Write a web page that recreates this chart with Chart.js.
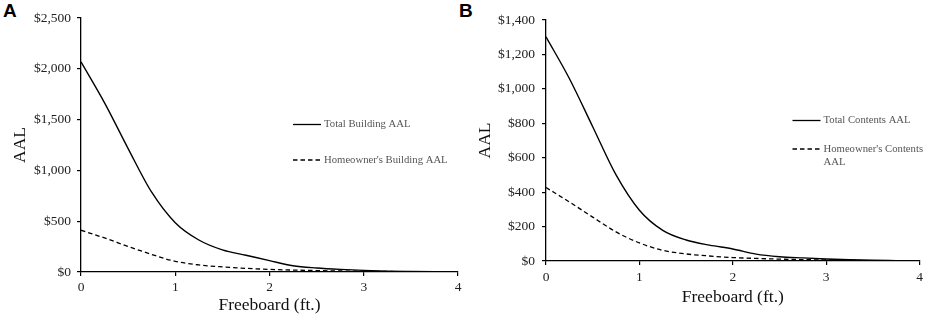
<!DOCTYPE html>
<html>
<head>
<meta charset="utf-8">
<script src="https://cdn.jsdelivr.net/npm/chart.js@4/dist/chart.umd.min.js"></script>
<style>
  html, body { margin: 0; padding: 0; background: #fff; }
  body { width: 927px; height: 317px; position: relative; overflow: hidden; }
  canvas { position: absolute; top: 0; }
  .lbl { position: absolute; font: bold 19px "Liberation Sans", Arial, sans-serif; line-height: 19px; color: #000; }
</style>
</head>
<body>
<div class="lbl" style="left:3px; top:1px;">A</div>
<div class="lbl" style="left:459px; top:1px;">B</div>
<canvas id="chartA" width="470" height="317" style="left:0px;"></canvas>
<canvas id="chartB" width="457" height="317" style="left:470px;"></canvas>
<script>
// ---- Data ----
const freeboard = [0, 0.25, 0.5, 0.75, 1, 1.25, 1.5, 1.75, 2, 2.25, 2.5, 2.75, 3, 3.25, 3.5, 3.75, 4];

// Panel A: Building AAL
const totalBuildingAAL      = [2068, 1665, 1215, 785, 485, 315, 218, 165, 112, 62, 40, 26, 16, 9, 5, 2, 0];
const homeownerBuildingAAL  = [411, 335, 252, 173, 105, 70, 50, 36, 26, 19, 14, 10, 7, 5, 3, 1, 0];

// Panel B: Contents AAL
const totalContentsAAL      = [1302, 1060, 780, 500, 295, 178, 122, 92, 70, 40, 25, 18, 12, 7, 4, 2, 0];
const homeownerContentsAAL  = [427, 343, 255, 169, 105, 62, 41, 29, 20, 15, 11, 8, 6, 4, 2, 1, 0];

const xTicks = [0, 1, 2, 3, 4];
const yTicksA = [0, 500, 1000, 1500, 2000, 2500];
const yTicksB = [0, 200, 400, 600, 800, 1000, 1200, 1400];

const labelsA = ["Total Building AAL", "Homeowner's Building AAL"];
const labelsB = ["Total Contents AAL", ["Homeowner's Contents", "AAL"]];

// ---- helpers ----
Chart.defaults.devicePixelRatio = 1;
const SERIF = '"Liberation Serif", "Times New Roman", serif';
const toXY = (xs, ys) => xs.map((x, i) => ({ x: x, y: ys[i] }));
const money = v => '$' + Number(v).toLocaleString('en-US');

function legendPlugin(pos) {
  return {
    id: 'inlineLegend',
    afterDraw(chart) {
      const ctx = chart.ctx;
      ctx.save();
      chart.data.datasets.forEach((ds, i) => {
        const p = pos[i];
        ctx.strokeStyle = '#000';
        ctx.lineWidth = 1.3;
        ctx.setLineDash(ds.borderDash || []);
        ctx.beginPath();
        ctx.moveTo(pos.x1, p.y);
        ctx.lineTo(pos.x2, p.y);
        ctx.stroke();
        ctx.setLineDash([]);
        ctx.fillStyle = '#555';
        ctx.font = '10.7px ' + SERIF;
        ctx.textBaseline = 'middle';
        ctx.textAlign = 'left';
        const lines = Array.isArray(ds.label) ? ds.label : [ds.label];
        lines.forEach((t, k) => ctx.fillText(t, pos.tx, p.y + k * p.lh));
      });
      ctx.restore();
    }
  };
}

function makeChart(id, opts) {
  return new Chart(document.getElementById(id), {
    type: 'line',
    data: {
      datasets: [
        { label: opts.labels[0], data: toXY(freeboard, opts.total), borderColor: '#000', borderWidth: 1.4,
          pointRadius: 0, cubicInterpolationMode: 'monotone', fill: false },
        { label: opts.labels[1], data: toXY(freeboard, opts.home), borderColor: '#000', borderWidth: 1.3,
          borderDash: [4.5, 3], pointRadius: 0, cubicInterpolationMode: 'monotone', fill: false }
      ]
    },
    options: {
      responsive: false,
      animation: false,
      events: [],
      layout: { padding: { left: 0, right: opts.padRight, top: opts.padTop, bottom: 0 } },
      plugins: { legend: { display: false }, tooltip: { enabled: false } },
      scales: {
        x: {
          type: 'linear', min: 0, max: 4,
          afterBuildTicks: s => { s.ticks = xTicks.map(v => ({ value: v })); },
          afterFit: s => { s.height = opts.xHeight; },
          ticks: { color: '#222', font: { family: SERIF, size: 13.5 }, padding: opts.xTickPad, maxRotation: 0 },
          grid: { display: true, drawOnChartArea: false, drawTicks: true, tickLength: 4, color: '#000', lineWidth: 1.2 },
          border: { display: true, color: '#000', width: 1.3 },
          title: { display: true, text: 'Freeboard (ft.)', color: '#111', font: { family: SERIF, size: 17.5 },
                   padding: { top: 0, bottom: opts.xTitlePad } }
        },
        y: {
          type: 'linear', min: 0, max: opts.yMax,
          afterBuildTicks: s => { s.ticks = opts.yTicks.map(v => ({ value: v })); },
          afterFit: s => { s.width = opts.yWidth; },
          ticks: { color: '#222', font: { family: SERIF, size: 13.5 }, padding: opts.yTickPad, callback: v => money(v) },
          grid: { display: true, drawOnChartArea: false, drawTicks: true, tickLength: 4, color: '#000', lineWidth: 1.2 },
          border: { display: true, color: '#000', width: 1.3 },
          title: { display: true, text: 'AAL', color: '#111', font: { family: SERIF, size: 17.5 },
                   padding: { top: opts.yTitlePad, bottom: 0 } }
        }
      }
    },
    plugins: [legendPlugin(opts.legend)]
  });
}

makeChart('chartA', {
  labels: labelsA, total: totalBuildingAAL, home: homeownerBuildingAAL,
  yMax: 2500, yTicks: yTicksA,
  padRight: 12, padTop: 18, xHeight: 45, yWidth: 81,
  xTickPad: 3, xTitlePad: 1.5, yTickPad: 6, yTitlePad: 9.5,
  legend: { x1: 293, x2: 321, tx: 324, 0: { y: 124.5, lh: 12.7 }, 1: { y: 160, lh: 12.7 } }
});

makeChart('chartB', {
  labels: labelsB, total: totalContentsAAL, home: homeownerContentsAAL,
  yMax: 1400, yTicks: yTicksB,
  padRight: 6, padTop: 20, xHeight: 56, yWidth: 76,
  xTickPad: 4, xTitlePad: 9.5, yTickPad: 7, yTitlePad: 4.5,
  legend: { x1: 322.5, x2: 350.5, tx: 353.5, 0: { y: 120.5, lh: 12.7 }, 1: { y: 149, lh: 12.7 } }
});
</script>
</body>
</html>
